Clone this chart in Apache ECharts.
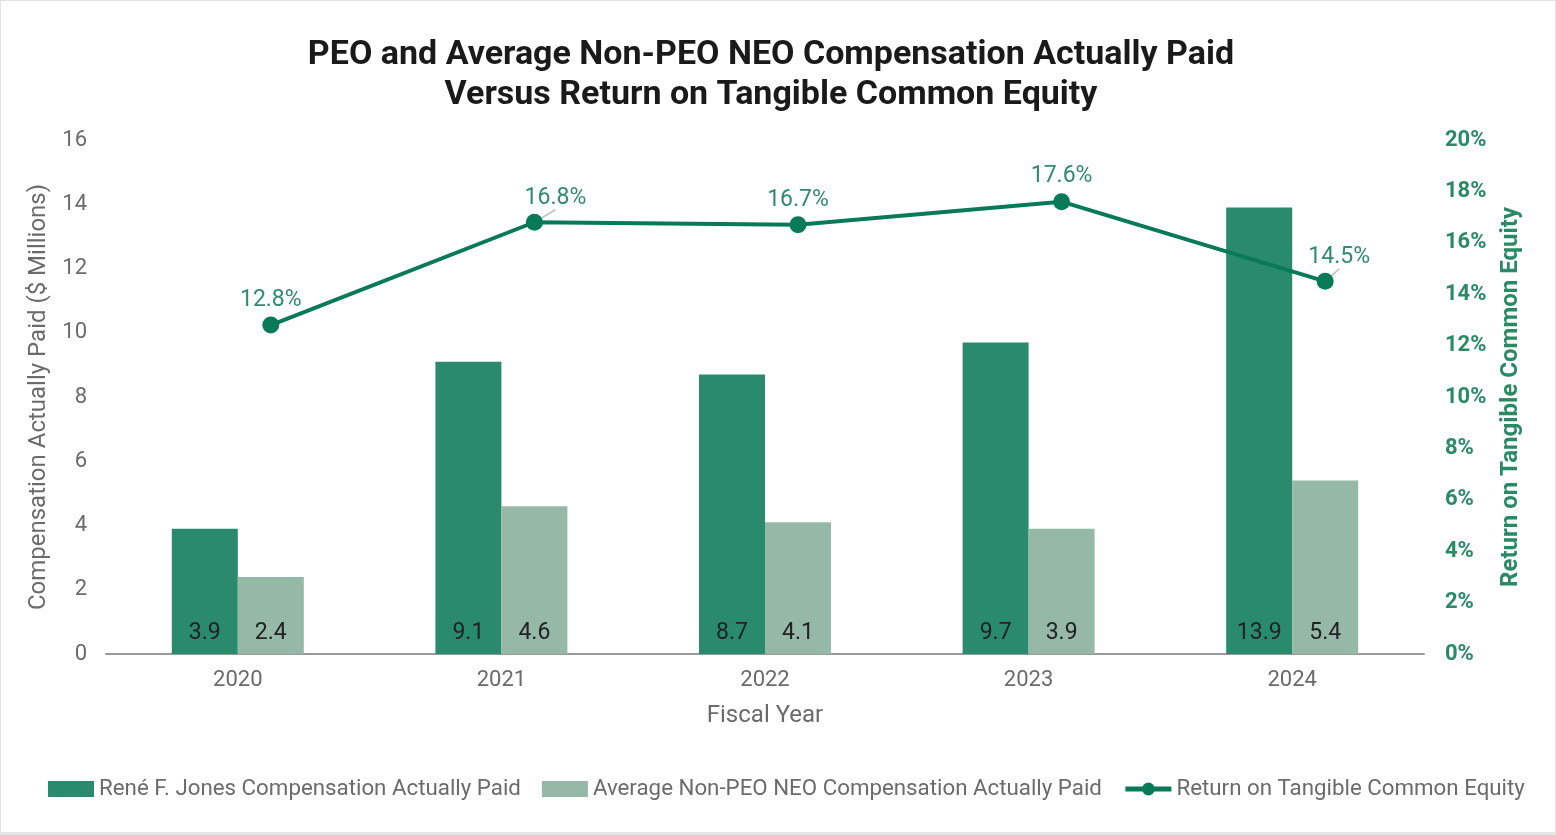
<!DOCTYPE html>
<html><head><meta charset="utf-8">
<script src="https://cdn.jsdelivr.net/npm/echarts@6/dist/echarts.min.js"></script>
<style>html,body{margin:0;padding:0;background:#fff}#c{width:1554px;height:831px;border:1px solid #e2e2e2;border-bottom:3px solid #e4e6e6}</style>
</head><body><div id="c"></div>
<script>
const years = ['2020','2021','2022','2023','2024'];
const peoCap = [3.9, 9.1, 8.7, 9.7, 13.9];
const neoCap = [2.4, 4.6, 4.1, 3.9, 5.4];
const rotce = [12.8, 16.8, 16.7, 17.6, 14.5];
const leftTicks = {min: 0, max: 16, interval: 2};
const rightTicks = {min: 0, max: 20, interval: 2};

const font = 'Roboto, "Noto Sans", sans-serif';
const chart = echarts.init(document.getElementById('c'));
const lineLabelShift = [null, {dx: 21, dy: 1}, null, null, {dx: 14, dy: 1}];
const lineData = rotce.map((v, i) => lineLabelShift[i]
  ? {value: v, labelLine: {show: true, lineStyle: {color: '#bdbdbd', width: 1.5}}}
  : {value: v, labelLine: {show: false}});
chart.setOption({
  animation: false,
  textStyle: {fontFamily: font},
  title: {
    text: 'PEO and Average Non-PEO NEO Compensation Actually Paid\nVersus Return on Tangible Common Equity',
    left: 765, textAlign: 'center', top: 29,
    textStyle: {fontSize: 34, fontWeight: 'bold', color: '#1a1a1a', lineHeight: 40, fontFamily: font}
  },
  legend: {
    left: 42, top: 772, itemWidth: 46, itemHeight: 16, itemGap: 21,
    textStyle: {fontSize: 22.3, color: '#6b6b6b', fontFamily: font},
    data: [
      {name: 'René F. Jones Compensation Actually Paid', icon: 'rect', itemStyle: {}},
      {name: 'Average Non-PEO NEO Compensation Actually Paid', icon: 'rect'},
      {name: 'Return on Tangible Common Equity', lineStyle: {width: 5}}
    ]
  },
  grid: [
    {left: 105, right: 131, top: 139, bottom: 178},
    {left: 138, right: 98, top: 139, bottom: 178}
  ],
  xAxis: [
    {type: 'category', gridIndex: 0, data: years,
     name: 'Fiscal Year', nameLocation: 'middle', nameGap: 50,
     nameTextStyle: {fontSize: 24, color: '#6b6b6b'},
     axisLine: {lineStyle: {color: '#9a9a9a', width: 2}}, axisTick: {show: false},
     axisLabel: {fontSize: 22, color: '#6b6b6b', margin: 15}},
    {type: 'category', gridIndex: 1, data: years, show: false}
  ],
  yAxis: [
    {type: 'value', gridIndex: 0, min: leftTicks.min, max: leftTicks.max, interval: leftTicks.interval,
     name: 'Compensation Actually Paid ($ Millions)', nameLocation: 'middle', nameGap: 45,
     nameTextStyle: {fontSize: 24, color: '#6b6b6b'},
     axisLine: {show: false}, axisTick: {show: false}, splitLine: {show: false},
     axisLabel: {fontSize: 22, color: '#6b6b6b', margin: 19}},
    {type: 'value', gridIndex: 0, position: 'right', min: rightTicks.min, max: rightTicks.max, interval: rightTicks.interval,
     name: 'Return on Tangible Common Equity', nameLocation: 'middle', nameGap: 75, nameRotate: 90,
     nameTextStyle: {fontSize: 24, color: '#2a8a66', fontWeight: 'bold'},
     axisLine: {show: false}, axisTick: {show: false}, splitLine: {show: false},
     axisLabel: {fontSize: 22, color: '#2a8a66', fontWeight: 'bold', margin: 21, formatter: '{value}%'}},
    {type: 'value', gridIndex: 1, min: rightTicks.min, max: rightTicks.max, show: false, splitLine: {show: false}}
  ],
  series: [
    {name: 'René F. Jones Compensation Actually Paid', type: 'bar', xAxisIndex: 0, yAxisIndex: 0,
     data: peoCap, barWidth: 66, barGap: '0%', itemStyle: {color: '#2a8a6c'},
     label: {show: true, position: 'insideBottom', distance: 9, fontSize: 23, color: '#222'}},
    {name: 'Average Non-PEO NEO Compensation Actually Paid', type: 'bar', xAxisIndex: 0, yAxisIndex: 0,
     data: neoCap, barWidth: 66, barGap: '0%', itemStyle: {color: '#96b8a7'},
     label: {show: true, position: 'insideBottom', distance: 9, fontSize: 23, color: '#222'}},
    {name: 'Return on Tangible Common Equity', type: 'line', xAxisIndex: 1, yAxisIndex: 2,
     data: lineData, symbol: 'circle', symbolSize: 17,
     lineStyle: {color: '#087a55', width: 4}, itemStyle: {color: '#087a55'},
     label: {show: true, position: 'top', distance: 5, fontSize: 23, color: '#2f8c6c', formatter: '{c}%'},
     labelLayout: function (p) { return lineLabelShift[p.dataIndex] || {}; }
    }
  ]
});
</script></body></html>
